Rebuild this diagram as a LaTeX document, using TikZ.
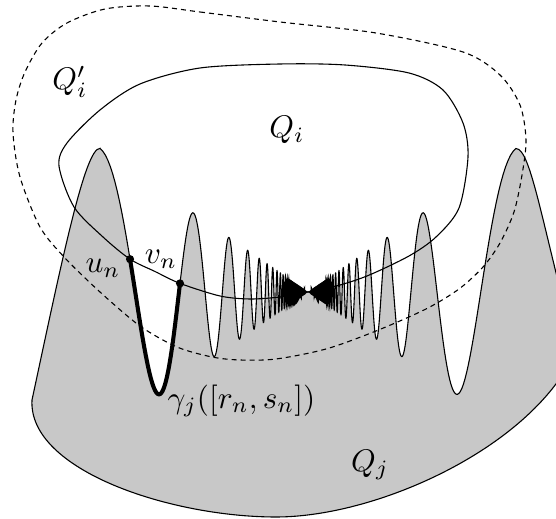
\documentclass[tikz,border=0pt]{standalone}
\definecolor{qgray}{RGB}{200,200,200}
\begin{document}
\begin{tikzpicture}[x=0.32pt,y=-0.32pt,
  thin line/.style={line width=0.35pt},
  dash line/.style={line width=0.35pt,dash pattern=on 1.6pt off 1.3pt},
  gamma line/.style={line width=1.3pt,line cap=round,line join=round},
  region/.style={fill=qgray,draw=black,line width=0.35pt},
  lbl/.style={inner sep=0pt}]
\useasboundingbox (0,0) rectangle (556,519);
\clip (0,0) rectangle (556,519);
% grey region Q_j with oscillating top boundary
\filldraw[region] (32,400) .. controls (62,260) and (85,148) .. (99.94,148.4)
  -- plot[variable=\u,domain=0:60,samples=601]
     ({308-1600/(\u+7.69)},{292-1104/(\u+7.69)*cos(deg(\u))})
  -- plot[variable=\u,domain=60:520,samples=1100]
     ({308-1600/(\u+7.69)},{292-1104/(\u+7.69)*cos(deg(mod(\u,6.283185)))})
  -- plot[variable=\u,domain=520:60,samples=1100]
     ({308+1600/(\u+7.69)},{292-1104/(\u+7.69)*cos(deg(mod(\u,6.283185)))})
  -- plot[variable=\u,domain=60:0,samples=601]
     ({308+1600/(\u+7.69)},{292-1104/(\u+7.69)*cos(deg(\u))})
  .. controls (531,148) and (543,230) .. (576,350)
  .. controls (535,445) and (380,517) .. (276,517)
  .. controls (170,517) and (28,470) .. (32,400) -- cycle;
% the dense oscillation near the centre reads as a solid bow-tie
\coordinate (mid) at (308,292);
\fill (mid) -- (289,278.9) -- (289,305.1) -- cycle;
\fill (mid) -- (327,278.9) -- (327,305.1) -- cycle;
% Q'_i dashed
\draw[dash line] plot[smooth cycle] coordinates {
  (150,6) (200,12) (280,22) (376,33) (463,52) (500,75) (520,105) (526,140)
  (522,175) (514,212) (500,243) (483,267) (459,289) (426,309) (376,331)
  (326,349) (276,359) (240,360) (212,357) (177,347) (140,326) (100,292)
  (65,258) (40,227) (20,177) (13,133) (16,100) (25,72) (42,43) (67,23) (105,9)};
% Q_i solid
\coordinate (un) at (130.02,259.15);
\coordinate (vn) at (180,283.39);
\draw[thin line] plot[smooth cycle] coordinates {
  (130.02,259.15) (103,237) (74,207) (59,166) (67,143) (100,110) (140,84)
  (200,68) (280,64) (345,65) (409,73) (443,90) (463,123) (468,157) (459,208)
  (436,237) (409,256) (367,276) (333,287) (308,292) (280,297) (250,299)
  (220,296) (180,283.39) (155,271.5)};
% gamma_j([r_n,s_n])
\draw[gamma line] plot[variable=\u,domain=1.30:4.81,samples=80]
  ({308-1600/(\u+7.69)},{292-1104/(\u+7.69)*cos(deg(\u))});
\fill (un) circle (1.3pt);
\fill (vn) circle (1.3pt);
% labels
\node[lbl] (lQip) at (70,82) {$Q'_i$};
\node[lbl] (lQi) at (287,130) {$Q_i$};
\node[lbl] (lun) at (103,268) {$u_n$};
\node[lbl] (lvn) at (161,259) {$v_n$};
\node[lbl,anchor=west] (lgam) at (167,401) {$\gamma_j([r_n,s_n])$};
\node[lbl] (lQj) at (370,465) {$Q_j$};
\end{tikzpicture}
\end{document}
